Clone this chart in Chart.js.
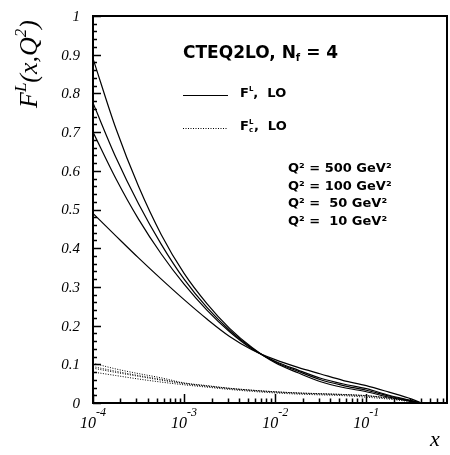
<!DOCTYPE html>
<html>
<head>
<meta charset="utf-8">
<script src="https://cdn.jsdelivr.net/npm/chart.js@4.4.1/dist/chart.umd.min.js"></script>
<style>
  body { margin: 0; background: #fff; }
  canvas { display: block; }
</style>
</head>
<body>
<canvas id="chart" width="450" height="455"></canvas>
<script>
// x grid shared by all curves (quarter decades)
const xVals = [1e-4, 1.78e-4, 3.16e-4, 5.62e-4, 1e-3, 1.78e-3, 3.16e-3, 5.62e-3,
               1e-2, 1.78e-2, 3.16e-2, 5.62e-2, 0.1, 0.178, 0.316, 0.4];

// F^L, LO (solid)
const flQ500 = [0.89, 0.71, 0.56, 0.435, 0.335, 0.257, 0.193, 0.143, 0.104, 0.078, 0.055, 0.040, 0.029, 0.015, 0.004, 0.0];
const flQ100 = [0.775, 0.635, 0.515, 0.41, 0.32, 0.247, 0.188, 0.141, 0.106, 0.082, 0.060, 0.045, 0.033, 0.018, 0.005, 0.0];
const flQ50  = [0.70, 0.58, 0.475, 0.385, 0.307, 0.24, 0.184, 0.139, 0.108, 0.085, 0.064, 0.049, 0.037, 0.020, 0.006, 0.0];
const flQ10  = [0.49, 0.432, 0.375, 0.32, 0.267, 0.217, 0.172, 0.137, 0.112, 0.092, 0.075, 0.058, 0.045, 0.028, 0.010, 0.0];

// F^L_c, LO (dotted)
const flcQ500 = [0.103, 0.088, 0.076, 0.065, 0.052, 0.045, 0.038, 0.033, 0.029, 0.026, 0.024, 0.022, 0.019, 0.013, 0.005, 0.0];
const flcQ100 = [0.094, 0.082, 0.071, 0.061, 0.051, 0.044, 0.038, 0.033, 0.029, 0.026, 0.024, 0.022, 0.019, 0.013, 0.005, 0.0];
const flcQ50  = [0.090, 0.079, 0.069, 0.059, 0.050, 0.043, 0.037, 0.032, 0.028, 0.025, 0.023, 0.021, 0.018, 0.012, 0.004, 0.0];
const flcQ10  = [0.080, 0.071, 0.062, 0.054, 0.047, 0.041, 0.035, 0.030, 0.026, 0.023, 0.021, 0.019, 0.015, 0.010, 0.003, 0.0];

const xDecades = [1e-4, 1e-3, 1e-2, 1e-1];
const xDecadeExp = ['-4', '-3', '-2', '-1'];
const yTicks = [0, 0.1, 0.2, 0.3, 0.4, 0.5, 0.6, 0.7, 0.8, 0.9, 1];
const yTickLabels = ['0', '0.1', '0.2', '0.3', '0.4', '0.5', '0.6', '0.7', '0.8', '0.9', '1'];
const q2Labels = ['Q\u00b2 = 500 GeV\u00b2', 'Q\u00b2 = 100 GeV\u00b2', 'Q\u00b2 =  50 GeV\u00b2', 'Q\u00b2 =  10 GeV\u00b2'];

function pts(ys) {
  return xVals.map((x, i) => ({ x: x, y: ys[i] }));
}

function solid(ys) {
  return { data: pts(ys), borderColor: '#000', borderWidth: 1.2, pointRadius: 0, fill: false, cubicInterpolationMode: 'monotone' };
}
function dotted(ys) {
  return { data: pts(ys), borderColor: '#000', borderWidth: 1, borderDash: [1, 1.5], pointRadius: 0, fill: false, cubicInterpolationMode: 'monotone' };
}

const SERIF = '"Liberation Serif", "Times New Roman", serif';
const SANS = '"DejaVu Sans", "Liberation Sans", sans-serif';

// draw text pieces in a row: [text, font, dy]
function drawRich(ctx, parts, x, y) {
  let cx = x;
  parts.forEach(p => {
    ctx.font = p[1];
    ctx.fillText(p[0], cx, y + (p[2] || 0));
    cx += ctx.measureText(p[0]).width;
  });
  return cx;
}
function richWidth(ctx, parts) {
  let w = 0;
  parts.forEach(p => { ctx.font = p[1]; w += ctx.measureText(p[0]).width; });
  return w;
}

const framePlugin = {
  id: 'frame',
  afterDraw(chart) {
    const ctx = chart.ctx;
    const a = chart.chartArea;
    const xs = chart.scales.x, ys = chart.scales.y;
    ctx.save();
    ctx.strokeStyle = '#000';
    ctx.fillStyle = '#000';

    // box
    ctx.lineWidth = 2;
    ctx.strokeRect(a.left, a.top, a.right - a.left, a.bottom - a.top);

    // y ticks
    ctx.lineWidth = 1.5;
    ctx.beginPath();
    for (let i = 0; i <= 50; i++) {
      const v = i * 0.02;
      const py = Math.round(ys.getPixelForValue(v)) + 0.5;
      const len = (i % 5 === 0) ? 8 : 4;
      ctx.moveTo(a.left, py);
      ctx.lineTo(a.left + len, py);
    }
    ctx.stroke();

    // x ticks
    ctx.beginPath();
    xDecades.forEach(d => {
      for (let k = 1; k <= 9; k++) {
        const v = d * k;
        if (v > xs.max) break;
        const px = Math.round(xs.getPixelForValue(v)) + 0.5;
        const len = (k === 1) ? 9 : 4.5;
        ctx.moveTo(px, a.bottom);
        ctx.lineTo(px, a.bottom - len);
      }
    });
    ctx.stroke();

    // y tick labels
    ctx.textAlign = 'right';
    ctx.textBaseline = 'middle';
    ctx.font = 'italic 15px ' + SERIF;
    yTicks.forEach((v, i) => {
      ctx.fillText(yTickLabels[i], 80, ys.getPixelForValue(v) + 1);
    });

    // x tick labels: 10^n
    ctx.textAlign = 'left';
    ctx.textBaseline = 'alphabetic';
    xDecades.forEach((d, i) => {
      const parts = [['10', 'italic 16px ' + SERIF, 0], [xDecadeExp[i], 'italic 12px ' + SERIF, -12]];
      const w = richWidth(ctx, parts);
      drawRich(ctx, parts, xs.getPixelForValue(d) - w / 2, 428);
    });

    // axis titles
    ctx.font = 'italic 22px ' + SERIF;
    ctx.fillText('x', 430, 446);

    ctx.save();
    ctx.translate(37, 108);
    ctx.rotate(-Math.PI / 2);
    drawRich(ctx, [
      ['F', 'italic 26px ' + SERIF, 0],
      ['L', 'italic 17px ' + SERIF, -11],
      ['(x,Q', 'italic 26px ' + SERIF, 0],
      ['2', 'italic 17px ' + SERIF, -11],
      [')', 'italic 26px ' + SERIF, 0]
    ], 0, 0);
    ctx.restore();

    // header
    drawRich(ctx, [
      ['CTEQ2LO, N', 'bold 17px ' + SANS, 0],
      ['f', 'bold 10px ' + SANS, 3],
      [' = 4', 'bold 17px ' + SANS, 0]
    ], 183, 58);

    // legend lines
    ctx.lineWidth = 1;
    ctx.beginPath();
    ctx.moveTo(183, 95.5); ctx.lineTo(228, 95.5);
    ctx.stroke();
    ctx.setLineDash([1, 1.5]);
    ctx.beginPath();
    ctx.moveTo(183, 128.5); ctx.lineTo(228, 128.5);
    ctx.stroke();
    ctx.setLineDash([]);

    drawRich(ctx, [
      ['F', 'bold 13px ' + SANS, 0],
      ['L', 'bold 7px ' + SANS, -6],
      [',  LO', 'bold 13px ' + SANS, 0]
    ], 240, 97);
    ctx.font = 'bold 13px ' + SANS;
    const fw = ctx.measureText('F').width;
    ctx.fillText('F', 240, 130);
    ctx.font = 'bold 7px ' + SANS;
    ctx.fillText('L', 240 + fw, 124);
    ctx.fillText('c', 240 + fw, 132);
    ctx.font = 'bold 13px ' + SANS;
    ctx.fillText(',  LO', 240 + fw + 5, 130);

    // Q2 labels
    ctx.font = 'bold 13px ' + SANS;
    q2Labels.forEach((t, i) => {
      ctx.fillText(t, 288, 172 + i * 17.5);
    });

    ctx.restore();
  }
};

new Chart(document.getElementById('chart'), {
  type: 'line',
  data: {
    datasets: [
      solid(flQ500), solid(flQ100), solid(flQ50), solid(flQ10),
      dotted(flcQ500), dotted(flcQ100), dotted(flcQ50), dotted(flcQ10)
    ]
  },
  options: {
    responsive: false,
    animation: false,
    layout: { padding: { left: 93, right: 3, top: 16, bottom: 52 } },
    scales: {
      x: { type: 'logarithmic', min: 1e-4, max: 0.77, display: false },
      y: { type: 'linear', min: 0, max: 1, display: false }
    },
    plugins: { legend: { display: false }, tooltip: { enabled: false } }
  },
  plugins: [framePlugin]
});
</script>
</body>
</html>
